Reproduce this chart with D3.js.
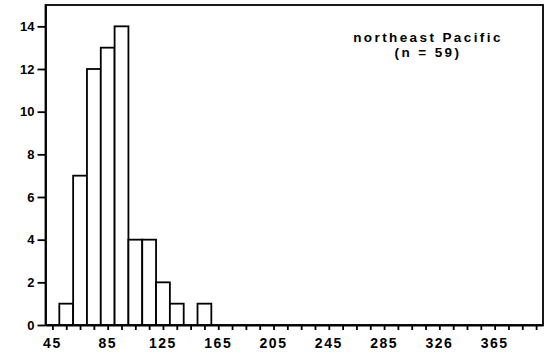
<!DOCTYPE html>
<html>
<head>
<meta charset="utf-8">
<script src="https://cdn.jsdelivr.net/npm/d3@7"></script>
<style>
  body { margin: 0; background: #fff; }
  svg { display: block; font-family: "Liberation Sans", Arial, sans-serif; font-weight: bold; }
</style>
</head>
<body>
<div id="chart"></div>
<script>
// bin lower edges (width 10) and counts
const binStarts = [50, 60, 70, 80, 90, 100, 110, 120, 130, 140, 150];
const counts = [1, 7, 12, 13, 14, 4, 4, 2, 1, 0, 1];
const binWidth = 10;
const xTickValues = [45, 85, 125, 165, 205, 245, 285, 325, 365];
const xTickLabels = ["45", "85", "125", "165", "205", "245", "285", "326", "365"];
const yTickValues = [0, 2, 4, 6, 8, 10, 12, 14];
const titleLines = ["northeast Pacific", "(n = 59)"];

const width = 549, height = 361;
const svg = d3.select("#chart").append("svg")
  .attr("width", width)
  .attr("height", height);

const x = d3.scaleLinear().domain([40, 400]).range([45.5, 543]);
const y = d3.scaleLinear().domain([0, 15]).range([325, 5]);

// frame
svg.append("rect")
  .attr("x", x(40)).attr("y", y(15))
  .attr("width", x(400) - x(40)).attr("height", y(0) - y(15))
  .attr("fill", "none").attr("stroke", "#000").attr("stroke-width", 1.8);

// bars
svg.append("g").selectAll("rect")
  .data(binStarts.map((s, i) => ({ s, c: counts[i] })).filter(d => d.c > 0))
  .join("rect")
  .attr("x", d => x(d.s))
  .attr("y", d => y(d.c))
  .attr("width", d => x(d.s + binWidth) - x(d.s))
  .attr("height", d => y(0) - y(d.c))
  .attr("fill", "#fff")
  .attr("stroke", "#000")
  .attr("stroke-width", 1.8);

// x axis: minor ticks every 10, labels every 40
const xAxis = svg.append("g")
  .attr("transform", `translate(0,${y(0)})`)
  .call(d3.axisBottom(x).tickValues(d3.range(45, 400, 10)).tickSize(5).tickFormat("").tickSizeOuter(0));
xAxis.select(".domain").attr("stroke-width", 1.8);
xAxis.selectAll(".tick line").attr("stroke-width", 1.8);

svg.append("g").selectAll("text")
  .data(xTickValues)
  .join("text")
  .attr("x", d => x(d))
  .attr("y", 348)
  .attr("text-anchor", "middle")
  .attr("font-size", 14)
  .attr("letter-spacing", 1.5)
  .text((d, i) => xTickLabels[i]);

// y axis
const yAxis = svg.append("g")
  .attr("transform", `translate(${x(40)},0)`)
  .call(d3.axisLeft(y).tickValues(yTickValues).tickSize(8).tickPadding(3).tickSizeOuter(0));
yAxis.select(".domain").attr("stroke-width", 1.8);
yAxis.selectAll(".tick line").attr("stroke-width", 1.8);
yAxis.selectAll(".tick text")
  .attr("font-size", 13)
  .attr("font-weight", "bold")
  .attr("font-family", "Liberation Sans, Arial, sans-serif")
  .attr("fill", "#000");

// annotation
svg.append("g").selectAll("text")
  .data(titleLines)
  .join("text")
  .attr("x", 428)
  .attr("y", (d, i) => 42 + i * 15)
  .attr("text-anchor", "middle")
  .attr("font-size", 13.5)
  .attr("letter-spacing", 2.4)
  .text(d => d);
</script>
</body>
</html>
